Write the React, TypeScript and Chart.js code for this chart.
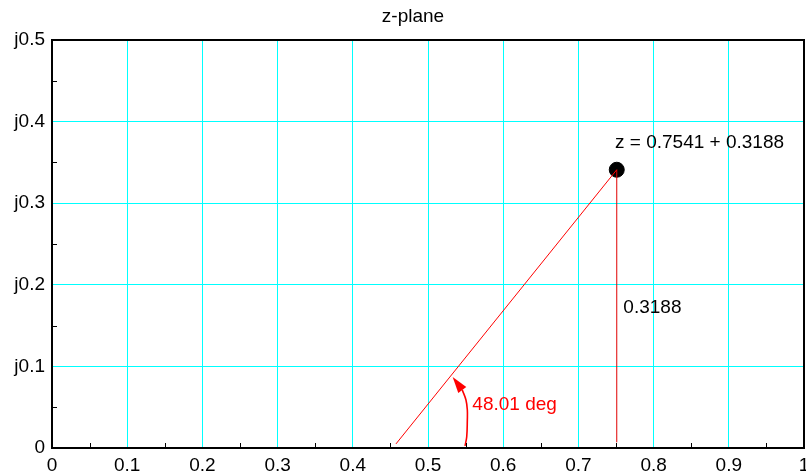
import React, { useEffect, useRef } from "react";
import { Chart, registerables } from "chart.js";

Chart.register(...registerables);

// ---- data ----
const titleText = "z-plane";
const xTickStep = 0.1;
const yTickStep = 0.1;
const xRange = [0, 1];
const yRange = [0, 0.5];
const minorXTicks = [0.05, 0.15, 0.25, 0.35, 0.45, 0.55, 0.65, 0.75, 0.85, 0.95];
const minorYTicks = [0.05, 0.15, 0.25, 0.35, 0.45];

const pointX = [0.751];
const pointY = [0.341];

const vectorX = [0.4574, 0.751];
const vectorY = [0.005, 0.341];

const imagX = [0.751, 0.751];
const imagY = [0.007, 0.341];

const arcX = [0.5492, 0.5515, 0.5523, 0.5523, 0.5505, 0.5456];
const arcY = [0.0025, 0.0138, 0.0343, 0.0466, 0.0588, 0.0711];
const arrowTip = [0.5328, 0.087];

const labelTexts = ["z = 0.7541 + 0.3188", "0.3188", "48.01 deg"];
const labelX = [0.7487, 0.7598, 0.559];
const labelY = [0.368, 0.165, 0.0466];
const labelColors = ["#000000", "#000000", "#ff0000"];

const FONT = "'Liberation Sans', Arial, Helvetica, sans-serif";

function pts(xs: number[], ys: number[]) {
  return xs.map((x, i) => ({ x, y: ys[i] }));
}

const zeroPad = () => ({ left: 0, top: 0, right: 0, bottom: 0 });

const extrasPlugin = {
  id: "extras",
  beforeDraw(chart: any) {
    const { ctx, chartArea } = chart;
    ctx.save();
    ctx.font = "19px " + FONT;
    ctx.fillStyle = "#000000";
    ctx.textAlign = "center";
    ctx.textBaseline = "middle";
    const cx = (chartArea.left + chartArea.right) / 2 - 15;
    ctx.fillText(titleText, cx, chartArea.top - 23.5);
    ctx.restore();
  },
  afterDatasetsDraw(chart: any) {
    const { ctx, chartArea, scales } = chart;
    const xs = scales.x;
    const ys = scales.y;
    ctx.save();
    // arrowhead
    const last = arcX.length - 1;
    const bx = xs.getPixelForValue(arcX[last]);
    const by = ys.getPixelForValue(arcY[last]);
    const tx = xs.getPixelForValue(arrowTip[0]);
    const ty = ys.getPixelForValue(arrowTip[1]);
    const dx = tx - bx;
    const dy = ty - by;
    const len = Math.hypot(dx, dy);
    const ux = dx / len;
    const uy = dy / len;
    const hw = 5;
    ctx.fillStyle = "#ff0000";
    ctx.beginPath();
    ctx.moveTo(tx, ty);
    ctx.lineTo(bx - uy * hw, by + ux * hw);
    ctx.lineTo(bx + uy * hw, by - ux * hw);
    ctx.closePath();
    ctx.fill();

    // annotations
    ctx.font = "19px " + FONT;
    ctx.textBaseline = "alphabetic";
    ctx.textAlign = "left";
    labelTexts.forEach((t, i) => {
      ctx.fillStyle = labelColors[i];
      ctx.fillText(t, xs.getPixelForValue(labelX[i]), ys.getPixelForValue(labelY[i]));
    });

    // minor ticks
    ctx.strokeStyle = "#000000";
    ctx.lineWidth = 1;
    ctx.beginPath();
    minorXTicks.forEach((v) => {
      const px = Math.round(xs.getPixelForValue(v)) + 0.5;
      ctx.moveTo(px, chartArea.bottom);
      ctx.lineTo(px, chartArea.bottom - 5);
    });
    minorYTicks.forEach((v) => {
      const py = Math.round(ys.getPixelForValue(v)) + 0.5;
      ctx.moveTo(chartArea.left, py);
      ctx.lineTo(chartArea.left + 5, py);
    });
    ctx.stroke();

    // frame
    ctx.lineWidth = 2;
    ctx.strokeStyle = "#000000";
    ctx.strokeRect(chartArea.left, chartArea.top, chartArea.right - chartArea.left, chartArea.bottom - chartArea.top);
    ctx.restore();
  },
};

export default function App() {
  const ref = useRef<HTMLCanvasElement | null>(null);
  useEffect(() => {
    if (!ref.current) return;
    const chart = new Chart(ref.current, {
      type: "scatter",
      data: {
        datasets: [
          { data: pts(vectorX, vectorY), showLine: true, borderColor: "#ff0000", borderWidth: 1, pointRadius: 0 },
          { data: pts(imagX, imagY), showLine: true, borderColor: "#e00000", borderWidth: 1, pointRadius: 0 },
          { data: pts(arcX, arcY), showLine: true, borderColor: "#ff0000", borderWidth: 1.6, pointRadius: 0, tension: 0.4 },
          { data: pts(pointX, pointY), pointRadius: 7.5, pointBackgroundColor: "#000000", pointBorderColor: "#000000", showLine: false },
        ],
      },
      options: {
        responsive: false,
        animation: false,
        events: [],
        font: { family: FONT },
        layout: { autoPadding: false, padding: { left: 0, right: 2, top: 40, bottom: 0 } },
        plugins: {
          legend: { display: false },
          tooltip: { enabled: false },
          title: { display: false },
        },
        scales: {
          x: {
            type: "linear",
            min: xRange[0],
            max: xRange[1],
            ticks: {
              stepSize: xTickStep,
              color: "#000000",
              font: { size: 19, family: FONT },
              padding: 6,
              maxRotation: 0,
              autoSkip: false,
              callback: (v: any) => String(Number(Number(v).toFixed(1))),
            },
            grid: { color: "#00ffff", lineWidth: 1, drawTicks: false },
            border: { display: false },
            afterFit: (s: any) => {
              s.height = 26;
              s.paddingLeft = 0;
              s.paddingRight = 0;
              s.getPadding = zeroPad;
            },
          },
          y: {
            type: "linear",
            min: yRange[0],
            max: yRange[1],
            ticks: {
              stepSize: yTickStep,
              color: "#000000",
              font: { size: 19, family: FONT },
              padding: 7,
              autoSkip: false,
              callback: (v: any) => {
                const n = Number(Number(v).toFixed(1));
                return n === 0 ? "0" : "j" + n.toFixed(1);
              },
            },
            grid: { color: "#00ffff", lineWidth: 1, drawTicks: false },
            border: { display: false },
            afterFit: (s: any) => {
              s.width = 52;
              s.paddingTop = 0;
              s.paddingBottom = 0;
              s.getPadding = zeroPad;
            },
          },
        },
      },
      plugins: [extrasPlugin],
    });
    return () => chart.destroy();
  }, []);
  return (
    <div style={{ position: "absolute", left: 0, top: 0, width: 806, height: 474, background: "#ffffff" }}>
      <canvas ref={ref} width={806} height={474} style={{ display: "block" }} />
    </div>
  );
}
